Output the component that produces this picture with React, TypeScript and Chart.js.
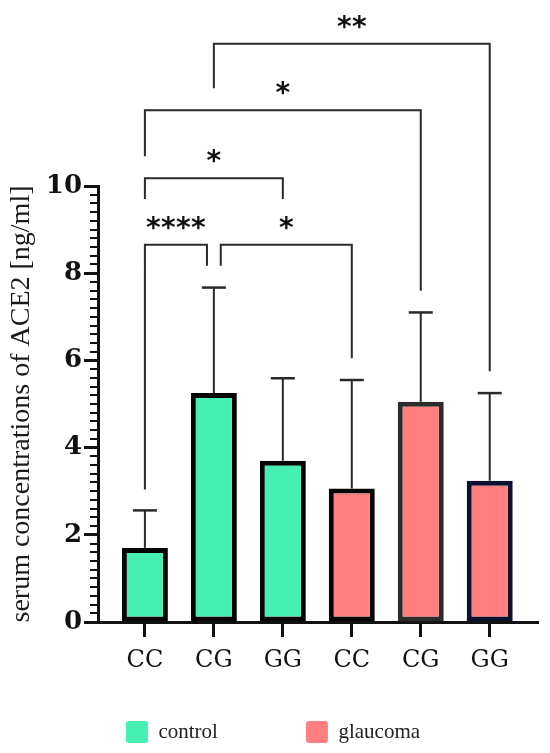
import React, { useEffect, useRef } from "react";
import { Chart, registerables } from "chart.js";

Chart.register(...registerables);

// ---- data ----
const categories = ["CC", "CG", "GG", "CC", "CG", "GG"];
const groupNames = ["control", "glaucoma"];
const controlX = [0, 1, 2];
const glaucomaX = [3, 4, 5];
const controlMeans = [1.7, 5.25, 3.7];
const glaucomaMeans = [3.06, 5.05, 3.24];
const controlUpper = [2.56, 7.67, 5.59];
const glaucomaUpper = [5.55, 7.1, 5.25];
const yTicks = [0, 2, 4, 6, 8, 10];
const yTitle = "serum concentrations of ACE2 [ng/ml]";

// significance brackets (category positions and value levels)
const bracketFrom = [0, 1.1, 0, 0, 1];
const bracketTo = [0.9, 3, 2, 4, 5];
const bracketLevel = [8.65, 8.65, 10.18, 11.74, 13.26];
const bracketFromEnd = [3.04, 8.17, 9.7, 10.68, 12.24];
const bracketToEnd = [8.17, 6.05, 9.7, 7.6, 5.75];
const bracketStars = ["****", "*", "*", "*", "**"];

// ---- styles ----
const GREEN = "#46F0B2";
const SALMON = "#FF7F7F";
const controlBorders = ["#050505", "#050505", "#050505"];
const glaucomaBorders = ["#050505", "#2c2c2c", "#0b1230"];
const LINE = "#2a2a2a";

const annotations = {
  id: "annotations",
  afterDatasetsDraw(chart: any) {
    const { ctx } = chart;
    const x = chart.scales.x;
    const y = chart.scales.y;
    ctx.save();
    const drawErr = (xs: number[], means: number[], ups: number[]) => {
      xs.forEach((xi, i) => {
        const px = x.getPixelForValue(xi);
        const top = y.getPixelForValue(means[i]);
        const up = y.getPixelForValue(ups[i]);
        ctx.strokeStyle = LINE;
        ctx.lineWidth = 2;
        ctx.beginPath();
        ctx.moveTo(px, top);
        ctx.lineTo(px, up);
        ctx.stroke();
        ctx.lineWidth = 2.5;
        ctx.beginPath();
        ctx.moveTo(px - 12, up);
        ctx.lineTo(px + 12, up);
        ctx.stroke();
      });
    };
    drawErr(controlX, controlMeans, controlUpper);
    drawErr(glaucomaX, glaucomaMeans, glaucomaUpper);
    ctx.restore();
  },
  afterDraw(chart: any) {
    const { ctx } = chart;
    const x = chart.scales.x;
    const y = chart.scales.y;
    ctx.save();
    // minor ticks on y axis
    ctx.strokeStyle = "#111";
    ctx.lineWidth = 2;
    for (let k = 1; k < 50; k++) {
      if (k % 10 === 0) continue;
      const py = Math.round(y.getPixelForValue(k * 0.2));
      ctx.beginPath();
      ctx.moveTo(y.right - 8, py);
      ctx.lineTo(y.right, py);
      ctx.stroke();
    }
    // brackets
    ctx.strokeStyle = LINE;
    ctx.lineWidth = 2;
    ctx.lineJoin = "miter";
    bracketFrom.forEach((f, i) => {
      const x1 = x.getPixelForValue(f);
      const x2 = x.getPixelForValue(bracketTo[i]);
      const yl = y.getPixelForValue(bracketLevel[i]);
      const y1 = y.getPixelForValue(bracketFromEnd[i]);
      const y2 = y.getPixelForValue(bracketToEnd[i]);
      ctx.beginPath();
      ctx.moveTo(x1, y1);
      ctx.lineTo(x1, yl);
      ctx.lineTo(x2, yl);
      ctx.lineTo(x2, y2);
      ctx.stroke();
      ctx.fillStyle = "#111";
      ctx.font = "bold 28px 'DejaVu Sans'";
      ctx.textAlign = "center";
      ctx.textBaseline = "alphabetic";
      const s = bracketStars[i];
      const step = 15;
      const mid = (x1 + x2) / 2;
      for (let j = 0; j < s.length; j++) {
        ctx.fillText("*", mid + (j - (s.length - 1) / 2) * step, yl - 8);
      }
    });
    ctx.restore();
  },
};

export default function App() {
  const ref = useRef<HTMLCanvasElement | null>(null);
  useEffect(() => {
    if (!ref.current) return;
    const chart = new Chart(ref.current, {
      type: "bar",
      data: {
        datasets: [
          {
            label: groupNames[0],
            data: controlX.map((xv, i) => ({ x: xv, y: controlMeans[i] })),
            backgroundColor: GREEN,
            borderColor: controlBorders,
            borderWidth: 5,
            borderSkipped: false,
            stack: "s",
            barPercentage: 0.667,
            categoryPercentage: 1,
          },
          {
            label: groupNames[1],
            data: glaucomaX.map((xv, i) => ({ x: xv, y: glaucomaMeans[i] })),
            backgroundColor: SALMON,
            borderColor: glaucomaBorders,
            borderWidth: 5,
            borderSkipped: false,
            stack: "s",
            barPercentage: 0.667,
            categoryPercentage: 1,
          },
        ],
      } as any,
      options: {
        animation: false,
        responsive: true,
        maintainAspectRatio: false,
        layout: { padding: { top: 178, right: 4, left: 0, bottom: 0 } },
        scales: {
          x: {
            type: "linear",
            min: -0.68,
            max: 5.7,
            offset: false,
            stacked: true,
            afterBuildTicks: (axis: any) => {
              axis.ticks = categories.map((_, i) => ({ value: i }));
            },
            afterFit: (s: any) => {
              s.height = 11;
            },
            grid: { offset: false, drawOnChartArea: false, tickLength: 15, tickWidth: 3, tickColor: "#111" },
            border: { color: "#111", width: 3 },
            ticks: {
              callback: (v: any, i: number) => categories[i] ?? "",
              font: { family: "'DejaVu Serif'", size: 24, lineHeight: 1.2 },
              color: "#111",
              mirror: true,
              padding: -53,
              autoSkip: false,
              maxRotation: 0,
              minRotation: 0,
            },
          },
          y: {
            type: "linear",
            min: 0,
            max: 10,
            stacked: false,
            afterBuildTicks: (axis: any) => {
              axis.ticks = yTicks.map((v) => ({ value: v }));
            },
            afterFit: (s: any) => {
              s.width = 90;
            },
            grid: { drawOnChartArea: false, tickLength: 14, tickWidth: 3, tickColor: "#111" },
            border: { color: "#111", width: 3 },
            ticks: {
              font: { family: "'DejaVu Serif'", size: 26, weight: "bold" },
              color: "#111",
              padding: 2,
            },
            title: {
              display: true,
              text: yTitle,
              font: { family: "'Liberation Serif'", size: 28, lineHeight: 1 },
              color: "#1a1a1a",
              padding: 0,
            },
          },
        },
        plugins: {
          legend: {
            position: "bottom",
            labels: {
              padding: 88,
              boxWidth: 22,
              boxHeight: 22,
              useBorderRadius: true,
              borderRadius: 3,
              color: "#222",
              font: { family: "'Liberation Serif'", size: 21 },
              generateLabels: () =>
                groupNames.map((name, i) => ({
                  text: name,
                  fillStyle: i === 0 ? GREEN : SALMON,
                  strokeStyle: "rgba(0,0,0,0)",
                  lineWidth: 0,
                  hidden: false,
                  datasetIndex: i,
                  borderRadius: 3,
                  fontColor: "#222",
                })),
            },
          },
          tooltip: { enabled: false },
        },
      } as any,
      plugins: [annotations],
    });
    return () => chart.destroy();
  }, []);

  return (
    <div style={{ position: "absolute", left: 8, top: 8, width: 534, height: 745 }}>
      <canvas ref={ref} />
    </div>
  );
}
